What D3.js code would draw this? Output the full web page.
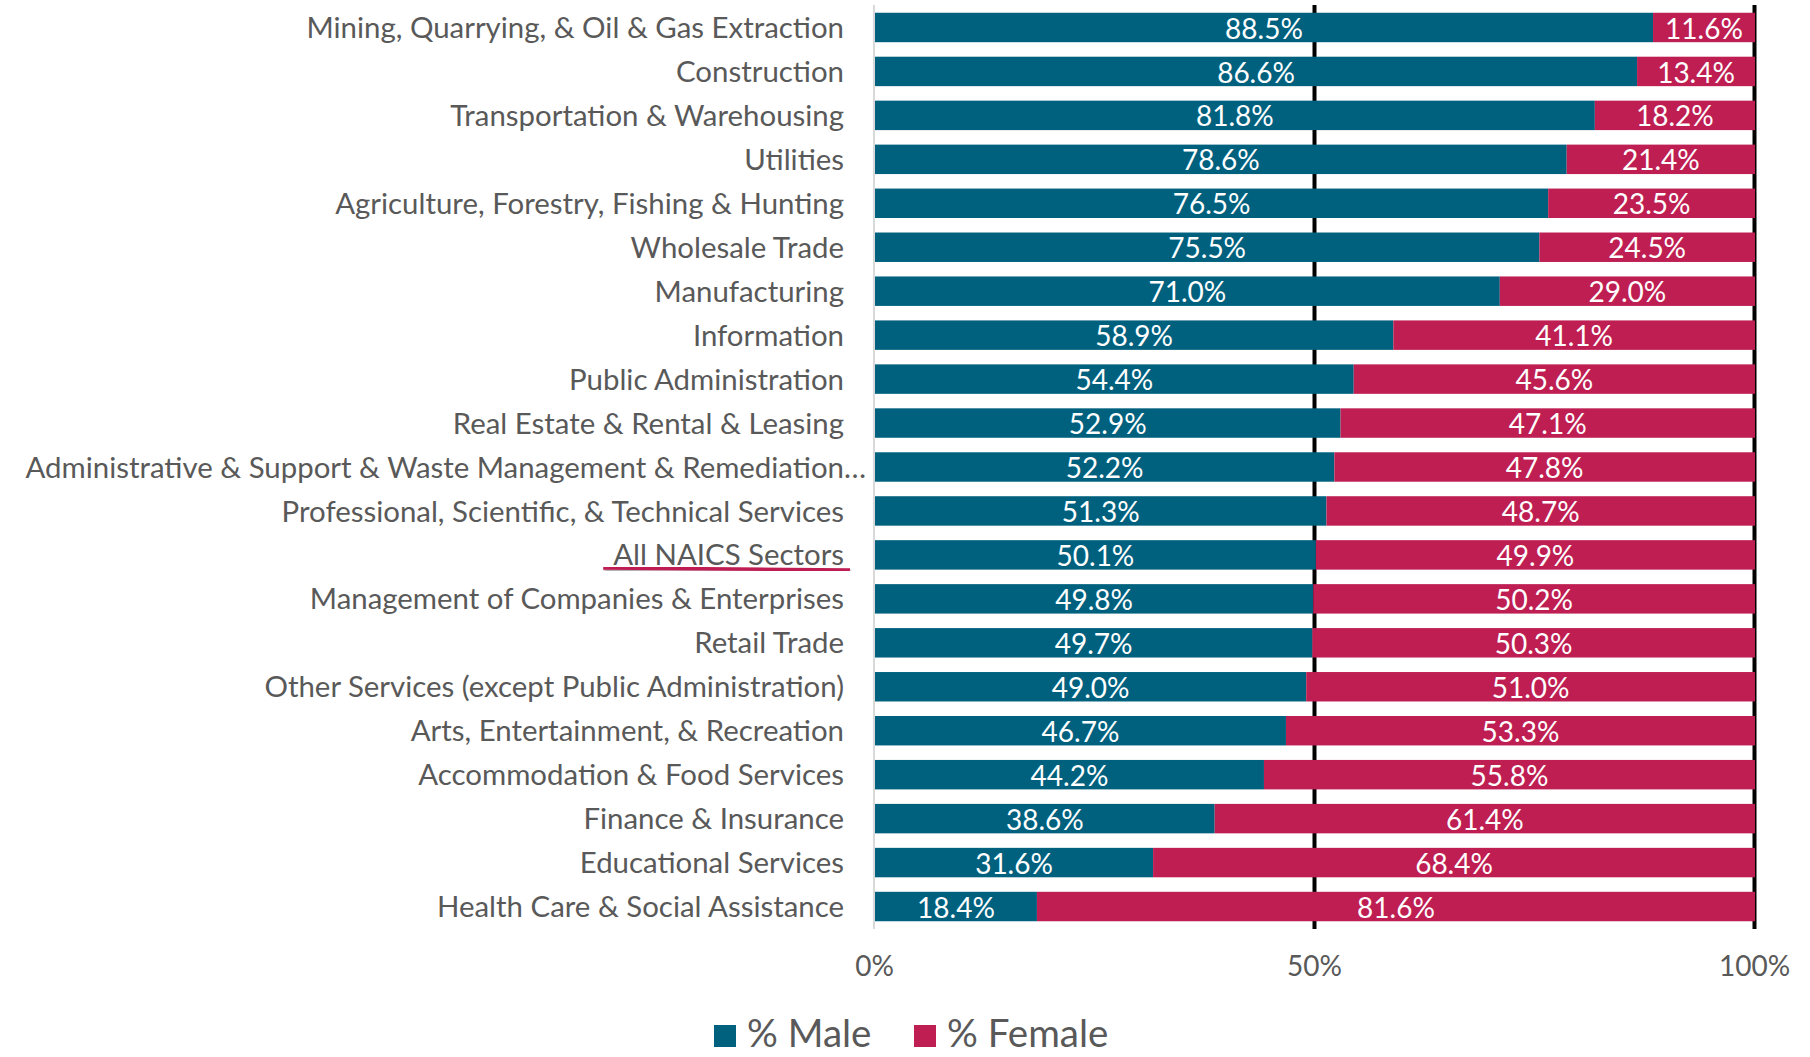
<!DOCTYPE html>
<html lang="en">
<head>
  <meta charset="UTF-8">
  <title>Share of male and female workers by NAICS sector</title>
  <script src="https://d3js.org/d3.v7.min.js"></script>
  <style>
    body { margin: 0; background: #fff; }
    text { font-family: Lato, "Open Sans", sans-serif; }
    .cat-label { font-size: 29.4px; fill: #595959; }
    .val-label { font-size: 28px; fill: #fff; }
    .tick text { font-size: 28px; fill: #595959; }
    .legend text { font-size: 38.5px; fill: #595959; }
  </style>
</head>
<body>
  <svg width="1810" height="1057"></svg>

  <script>
    // chart data (sorted as in source)
    const sectors = [
      "Mining, Quarrying, & Oil & Gas Extraction",
      "Construction",
      "Transportation & Warehousing",
      "Utilities",
      "Agriculture, Forestry, Fishing & Hunting",
      "Wholesale Trade",
      "Manufacturing",
      "Information",
      "Public Administration",
      "Real Estate & Rental & Leasing",
      "Administrative & Support & Waste Management & Remediation…",
      "Professional, Scientific, & Technical Services",
      "All NAICS Sectors",
      "Management of Companies & Enterprises",
      "Retail Trade",
      "Other Services (except Public Administration)",
      "Arts, Entertainment, & Recreation",
      "Accommodation & Food Services",
      "Finance & Insurance",
      "Educational Services",
      "Health Care & Social Assistance"
    ];
    const male = [88.5, 86.6, 81.8, 78.6, 76.5, 75.5, 71.0, 58.9, 54.4, 52.9, 52.2,
                  51.3, 50.1, 49.8, 49.7, 49.0, 46.7, 44.2, 38.6, 31.6, 18.4];
    const female = [11.6, 13.4, 18.2, 21.4, 23.5, 24.5, 29.0, 41.1, 45.6, 47.1, 47.8,
                    48.7, 49.9, 50.2, 50.3, 51.0, 53.3, 55.8, 61.4, 68.4, 81.6];
    const seriesNames = ["% Male", "% Female"];
    const seriesColors = ["#00617f", "#be1e52"];
    const tickValues = [0, 0.5, 1];
    const highlighted = "All NAICS Sectors";

    const margin = {top: 5, left: 874},
          width = 880,
          height = 925;

    const svg = d3.select("svg");
    const g = svg.append("g")
      .attr("transform", `translate(${margin.left},${margin.top})`);

    const rows = sectors.map((s, i) => ({sector: s, male: male[i], female: female[i]}));
    const stack = d3.stack()
      .keys(["male", "female"])
      .offset(d3.stackOffsetExpand);
    const layers = stack(rows);

    const x = d3.scaleLinear().domain([0, 1]).range([0, width]);
    const y = d3.scaleBand()
      .domain(sectors)
      .range([0.5, height - 1.5])
      .paddingInner(0.33)
      .paddingOuter(0.165);

    // black gridlines at 50% / 100% (behind bars)
    g.append("g")
      .call(d3.axisBottom(x).tickValues([0.5, 1]).tickSize(height - 1).tickFormat(""))
      .call(a => a.select(".domain").remove())
      .selectAll("line")
      .attr("stroke", "#000")
      .attr("stroke-width", 4);

    // category axis line
    g.append("line")
      .attr("x1", x(0)).attr("x2", x(0))
      .attr("y1", 0).attr("y2", height - 1)
      .attr("stroke", "#d9d9d9")
      .attr("stroke-width", 2);

    // bars
    const layerG = g.selectAll(".layer")
      .data(layers)
      .join("g")
      .attr("class", "layer")
      .attr("fill", (d, i) => seriesColors[i]);

    layerG.selectAll("rect")
      .data(d => d)
      .join("rect")
      .attr("x", d => x(d[0]) + 1)
      .attr("y", d => y(d.data.sector))
      .attr("width", d => x(d[1]) - x(d[0]))
      .attr("height", y.bandwidth());

    // value labels
    layerG.selectAll("text")
      .data((d, i) => d.map(v => ({v, key: d.key})))
      .join("text")
      .attr("class", "val-label")
      .attr("text-anchor", "middle")
      .attr("x", d => x((d.v[0] + d.v[1]) / 2) + 1)
      .attr("y", d => y(d.v.data.sector) + y.bandwidth() / 2 + 1)
      .attr("dy", "0.36em")
      .text(d => d3.format(".1f")(d.v.data[d.key]) + "%");

    // category labels (truncated label sits closer to the axis, as in Excel)
    const cats = g.append("g")
      .selectAll("text")
      .data(sectors)
      .join("text")
      .attr("class", "cat-label")
      .attr("text-anchor", "end")
      .attr("x", d => d.endsWith("…") ? -8 : -30)
      .attr("y", d => y(d) + y.bandwidth() / 2)
      .attr("dy", "0.36em")
      .text(d => d);

    // underline annotation on the overall row
    const hl = cats.filter(d => d === highlighted);
    const hlW = hl.node().getComputedTextLength();
    const defs = svg.append("defs");
    defs.append("filter").attr("id", "shadow")
      .append("feDropShadow")
      .attr("dx", 1).attr("dy", 2).attr("stdDeviation", 1.2)
      .attr("flood-color", "#000").attr("flood-opacity", 0.35);
    g.append("line")
      .attr("x1", -30 - hlW - 10).attr("x2", -24)
      .attr("y1", y(highlighted) + y.bandwidth() / 2 + 13)
      .attr("y2", y(highlighted) + y.bandwidth() / 2 + 15)
      .attr("stroke", seriesColors[1])
      .attr("stroke-width", 3.5)
      .attr("filter", "url(#shadow)");

    // percentage axis
    g.append("g")
      .attr("transform", `translate(0,${height + 18})`)
      .call(d3.axisBottom(x).tickValues(tickValues).tickSize(0).tickFormat(d3.format(".0%")))
      .call(a => a.select(".domain").remove())
      .selectAll("text")
      .attr("dy", "0.9em");

    // legend
    const legend = svg.append("g").attr("class", "legend")
      .attr("transform", "translate(714,1033)");
    const item = legend.selectAll("g")
      .data(seriesNames)
      .join("g")
      .attr("transform", (d, i) => `translate(${i * 200},0)`);
    item.append("rect")
      .attr("x", 0).attr("y", -8)
      .attr("width", 22).attr("height", 22)
      .attr("fill", (d, i) => seriesColors[i]);
    item.append("text")
      .attr("x", 33)
      .attr("dy", "0.36em")
      .text(d => d);
  </script>
</body>
</html>
